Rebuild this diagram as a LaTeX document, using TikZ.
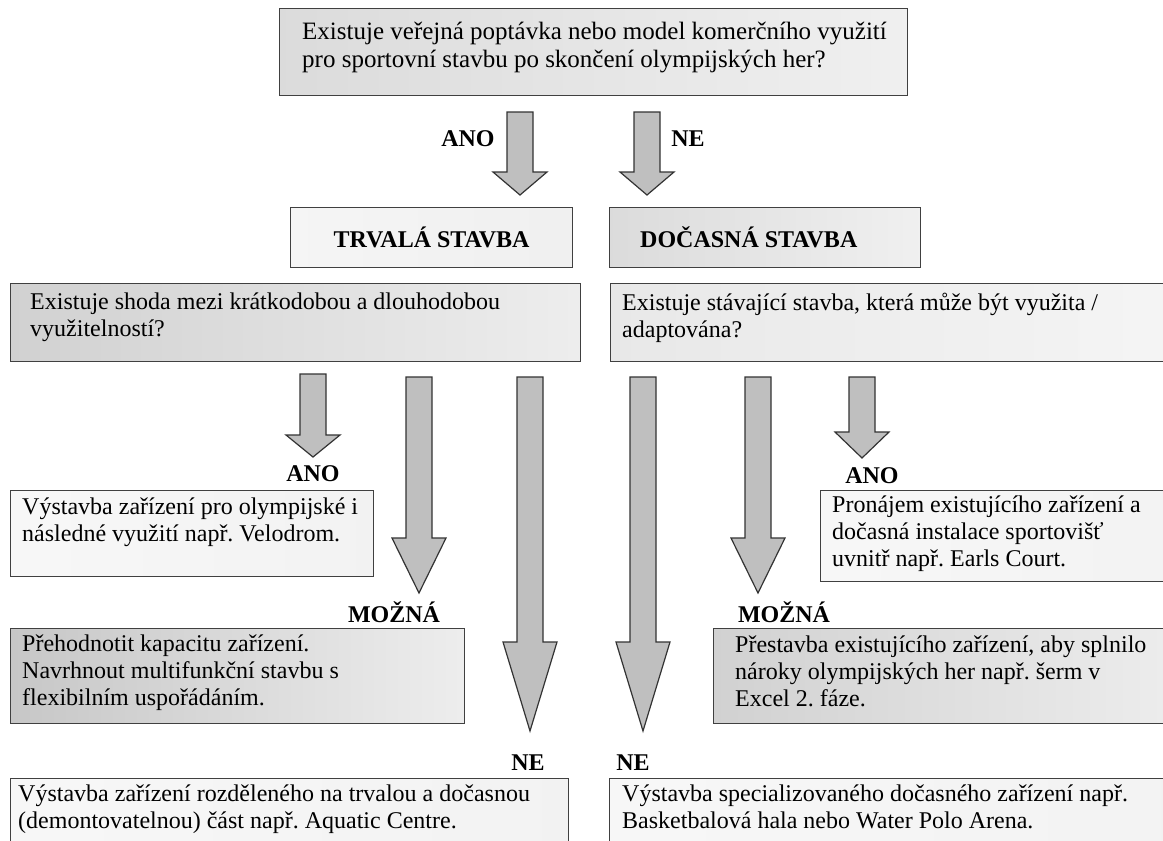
\documentclass[tikz,border=0pt]{standalone}
\usepackage{fontspec}
\setmainfont{Liberation Serif}
\frenchspacing
\begin{document}
\begin{tikzpicture}[x=1pt,y=-1pt,
  panel/.style={draw=black!75, line width=1.3pt, anchor=north west, inner sep=0pt},
  txt/.style={anchor=north west, inner sep=0pt, align=left, font=\fontsize{24}{27}\selectfont, execute at begin node=\strut},
  lbl/.style={inner sep=0pt, font=\fontsize{24}{28}\selectfont\bfseries},
  blockarrow/.style={draw=black!80, fill=black!25, line width=1.2pt, line join=miter}]
\clip (0,0) rectangle (1163,841);
\node[panel, left color=black!14, right color=black!6, minimum width=628pt, minimum height=87pt] (topq) at (279,8) {};
\node[txt, font=\fontsize{25}{28}\selectfont] (topqt) at (302,22) {Existuje veřejná poptávka nebo model komerčního využití\\pro sportovní stavbu po skončení olympijských her?};
\node[lbl] (ano0) at (468,139) {ANO};
\node[lbl] (ne0) at (688,139) {NE};
\node[panel, left color=black!4, right color=black!6, minimum width=282pt, minimum height=60pt, font=\fontsize{24}{28}\selectfont\bfseries] (trvala) at (290,207) {TRVALÁ STAVBA};
\node[panel, left color=black!14, right color=black!6, minimum width=311pt, minimum height=60pt] (docasna) at (609,207) {};
\node[lbl, anchor=west] (docasnat) at (640,237) {DOČASNÁ STAVBA};
\node[panel, left color=black!18, right color=black!7, minimum width=570pt, minimum height=78pt] (qleft) at (10,283) {};
\node[txt] (qleftt) at (30,293) {Existuje shoda mezi krátkodobou a dlouhodobou\\využitelností?};
\node[panel, left color=black!9, right color=black!4, minimum width=570pt, minimum height=78pt] (qright) at (610,283) {};
\node[txt] (qrightt) at (622,293) {Existuje stávající stavba, která může být využita /\\adaptována?};
\foreach \cx/\ya/\yb/\yc in {520/112/172/195, 647/112/172/195, 313/374/435/457, 419/377/538/593, 530/377/642/731, 643/377/642/731, 758/377/538/593, 862/377/432/458}
  \draw[blockarrow] (\cx-13,\ya) -- (\cx+13,\ya) -- (\cx+13,\yb) -- (\cx+27,\yb) -- (\cx,\yc) -- (\cx-27,\yb) -- (\cx-13,\yb) -- cycle;
\node[lbl] (ano1) at (313,474) {ANO};
\node[lbl] (ano2) at (872,476) {ANO};
\node[lbl] (moz1) at (394,612) {MOŽNÁ};
\node[lbl] (moz2) at (784,612) {MOŽNÁ};
\node[lbl] (ne1) at (528,763) {NE};
\node[lbl] (ne2) at (633,763) {NE};
\node[panel, left color=black!3, right color=black!5, minimum width=363pt, minimum height=86pt] (anol) at (10,490) {};
\node[txt] (anolt) at (22,498) {Výstavba zařízení pro olympijské i\\následné využití např. Velodrom.};
\node[panel, left color=black!3, right color=black!5, minimum width=360pt, minimum height=91pt] (anor) at (820,490) {};
\node[txt] (anort) at (832,496) {Pronájem existujícího zařízení a\\dočasná instalace sportovišť\\uvnitř např. Earls Court.};
\node[panel, left color=black!22, right color=black!7, minimum width=454pt, minimum height=95pt] (mozl) at (10,628) {};
\node[txt] (mozlt) at (22,635) {Přehodnotit kapacitu zařízení.\\Navrhnout multifunkční stavbu s\\flexibilním uspořádáním.};
\node[panel, left color=black!18, right color=black!7, minimum width=470pt, minimum height=95pt] (mozr) at (713,628) {};
\node[txt] (mozrt) at (735,636) {Přestavba existujícího zařízení, aby splnilo\\nároky olympijských her např. šerm v\\Excel 2. fáze.};
\node[panel, left color=black!3, right color=black!5, minimum width=558pt, minimum height=80pt] (nel) at (10,778) {};
\node[txt] (nelt) at (18,785) {Výstavba zařízení rozděleného na trvalou a dočasnou\\(demontovatelnou) část např. Aquatic Centre.};
\node[panel, left color=black!3, right color=black!5, minimum width=580pt, minimum height=80pt] (ner) at (609,778) {};
\node[txt] (nert) at (622,785) {Výstavba specializovaného dočasného zařízení např.\\Basketbalová hala nebo Water Polo Arena.};
\end{tikzpicture}
\end{document}
